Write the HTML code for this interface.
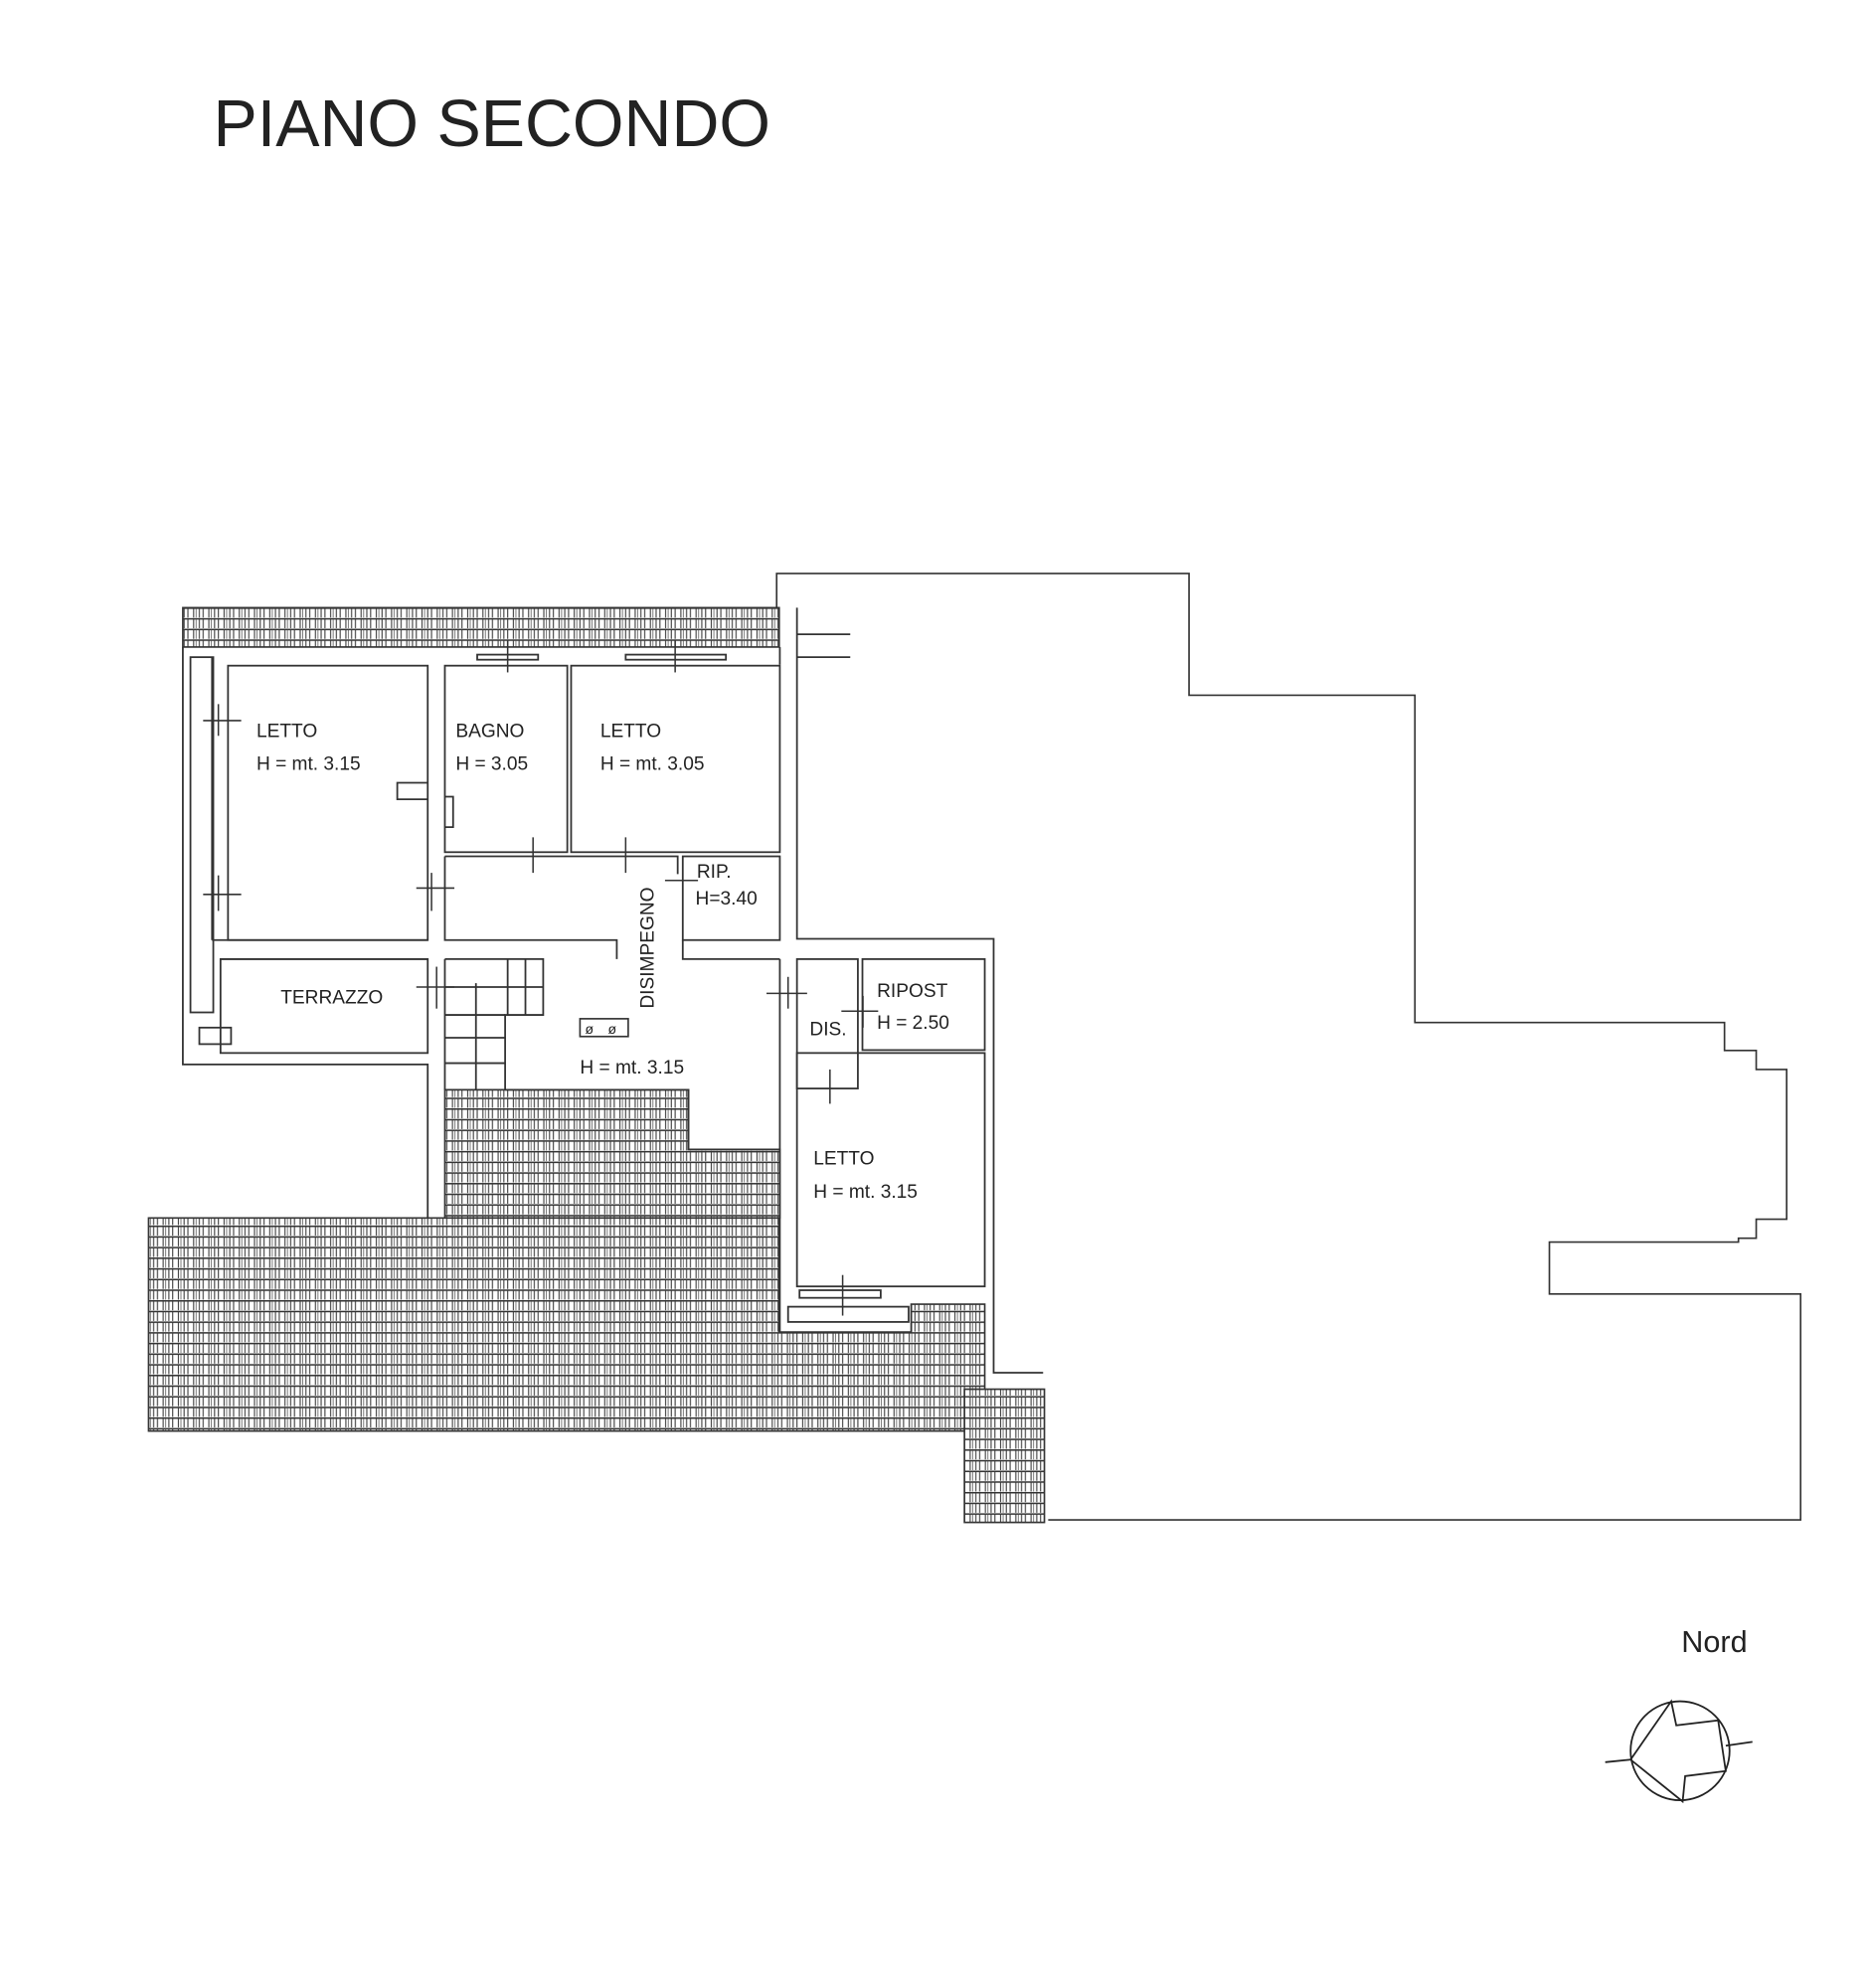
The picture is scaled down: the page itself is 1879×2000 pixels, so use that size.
<!DOCTYPE html>
<html><head><meta charset="utf-8"><style>
html,body{margin:0;padding:0;background:#fff;}
svg{display:block;}
text{font-family:"Liberation Sans",sans-serif;fill:#222;}
</style></head><body>
<svg width="1879" height="2000" viewBox="0 0 1472 1567" xmlns="http://www.w3.org/2000/svg">
<defs>
<pattern id="h" width="12" height="8.4" patternUnits="userSpaceOnUse">
<rect width="12" height="8.4" fill="#fff"/>
<line x1="0" y1="0.6" x2="12" y2="0.6" stroke="#333" stroke-width="1.2"/>
<line x1="1" y1="1" x2="1" y2="8" stroke="#444" stroke-width="0.9"/>
<line x1="4" y1="1" x2="4" y2="8" stroke="#444" stroke-width="0.9"/>
<line x1="8.5" y1="1" x2="8.5" y2="8" stroke="#444" stroke-width="0.9"/>
<line x1="10.5" y1="1" x2="10.5" y2="8" stroke="#555" stroke-width="0.6"/>
</pattern>
</defs>
<text x="168" y="115" font-size="52">PIANO SECONDO</text>

<polyline fill="none" stroke="#333" stroke-width="1.3" points="612,500 612,452 937,452 937,548 1115,548 1115,806 1359,806 1359,828 1384,828 1384,843 1408,843 1408,961 1384,961 1384,976 1370,976 1370,979 1221,979 1221,1020 1419,1020 1419,1198 826,1198"/>

<rect x="144" y="479" width="470" height="31" fill="url(#h)" stroke="#333" stroke-width="1.3"/>
<polygon fill="url(#h)" stroke="#333" stroke-width="1.3" points="350.5,859 542.5,859 542.5,906 614.5,906 614.5,960 350.5,960"/>
<polygon fill="url(#h)" stroke="#333" stroke-width="1.3" points="117,960 614,960 614,1050 718,1050 718,1028 776,1028 776,1128 117,1128"/>
<rect x="760" y="1095" width="63" height="105" fill="url(#h)" stroke="#333" stroke-width="1.3"/>

<g fill="none" stroke="#333" stroke-width="1.4">
<polyline points="144,510 144,839 337,839 337,960"/>
<polyline points="628,479 628,740 783,740 783,1082 822,1082"/>
<line x1="628" y1="500" x2="670" y2="500"/>
<line x1="628" y1="518" x2="670" y2="518"/>
<line x1="614.5" y1="510" x2="614.5" y2="524"/>
<polyline points="614.5,756 614.5,1050"/>
<rect x="179.6" y="524.7" width="157.4" height="216.3"/>
<rect x="350.5" y="524.7" width="96.5" height="147"/>
<rect x="450" y="524.7" width="164.5" height="147"/>
<rect x="538" y="675" width="76.5" height="66"/>
<polyline points="350.5,675 534,675 534,689"/>
<polyline points="350.5,675 350.5,741 486,741 486,756"/>
<line x1="167" y1="741" x2="337" y2="741"/>
<line x1="173.7" y1="756" x2="337" y2="756"/>
<polyline points="538,741 538,756 614.5,756"/>
<rect x="173.7" y="756" width="163.3" height="74"/>
<polyline points="350.5,756 350.5,859"/>
<rect x="150" y="518" width="18" height="280"/>
<line x1="167" y1="518" x2="167" y2="741"/>
<rect x="157" y="810" width="25" height="13"/>
<polyline points="350.5,756 428,756 428,800 398,800 398,859"/>
<line x1="350.5" y1="778" x2="428" y2="778"/>
<line x1="350.5" y1="800" x2="398" y2="800"/>
<line x1="350.5" y1="818" x2="398" y2="818"/>
<line x1="350.5" y1="838" x2="398" y2="838"/>
<line x1="375" y1="775" x2="375" y2="859"/>
<line x1="400" y1="756" x2="400" y2="800"/>
<line x1="414" y1="756" x2="414" y2="800"/>
<polyline points="398,859 542.5,859 542.5,906 614.5,906"/>
<rect x="628" y="756" width="48" height="102"/>
<rect x="679.6" y="756" width="96.4" height="71.7"/>
<rect x="628" y="830" width="148" height="184"/>
<rect x="621" y="1030" width="95" height="12"/>
<rect x="630" y="1017" width="64" height="6"/>
<rect x="376" y="516" width="48" height="4"/>
<rect x="493" y="516" width="79" height="4"/>
<polyline points="337,617 313,617 313,630 337,630"/>
<polyline points="350.5,628 357,628 357,652 350.5,652"/>
</g>
<g stroke="#333" stroke-width="1.2">
<line x1="400" y1="505" x2="400" y2="530"/>
<line x1="532" y1="505" x2="532" y2="530"/>
<line x1="160" y1="568" x2="190" y2="568"/><line x1="172" y1="555" x2="172" y2="580"/>
<line x1="160" y1="705" x2="190" y2="705"/><line x1="172" y1="690" x2="172" y2="718"/>
<line x1="328" y1="700" x2="358" y2="700"/><line x1="340" y1="688" x2="340" y2="718"/>
<line x1="328" y1="778" x2="358" y2="778"/><line x1="344" y1="762" x2="344" y2="795"/>
<line x1="420" y1="660" x2="420" y2="688"/>
<line x1="493" y1="660" x2="493" y2="688"/>
<line x1="524" y1="694" x2="550" y2="694"/>
<line x1="604" y1="783" x2="636" y2="783"/><line x1="621" y1="770" x2="621" y2="795"/>
<line x1="663" y1="797" x2="692" y2="797"/><line x1="680" y1="785" x2="680" y2="810"/>
<line x1="654" y1="843" x2="654" y2="870"/>
<line x1="664" y1="1005" x2="664" y2="1037"/>
</g>
<rect x="457" y="803" width="38" height="14" fill="none" stroke="#333" stroke-width="1.3"/>
<text x="461" y="815" font-size="11">ø</text><text x="479" y="815" font-size="11">ø</text>

<g font-size="15">
<text x="202" y="581">LETTO</text><text x="202" y="607">H = mt. 3.15</text>
<text x="359" y="581">BAGNO</text><text x="359" y="607">H = 3.05</text>
<text x="473" y="581">LETTO</text><text x="473" y="607">H = mt. 3.05</text>
<text x="549" y="692">RIP.</text><text x="548" y="713">H=3.40</text>
<text x="221" y="791">TERRAZZO</text>
<text x="457" y="846">H = mt. 3.15</text>
<text x="638" y="816">DIS.</text>
<text x="691" y="786">RIPOST</text><text x="691" y="811">H = 2.50</text>
<text x="641" y="918">LETTO</text><text x="641" y="944">H = mt. 3.15</text>
<text transform="translate(515,795) rotate(-90)">DISIMPEGNO</text>
</g>

<text x="1325" y="1302" font-size="24">Nord</text>
<g fill="none" stroke="#222" stroke-width="1.4">
<circle cx="1324" cy="1380" r="39"/>
<polygon points="1285,1387 1317,1341 1321,1360 1354,1356 1360,1396 1328,1400 1326,1420"/>
<line x1="1265" y1="1389" x2="1285" y2="1387"/>
<line x1="1360" y1="1376" x2="1381" y2="1373"/>
</g>
</svg>
</body></html>
